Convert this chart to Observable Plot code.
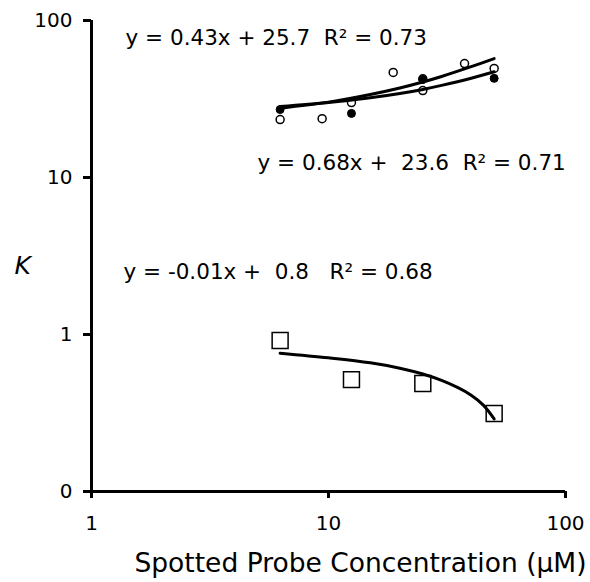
<!DOCTYPE html>
<html><head><meta charset="utf-8">
<script src="https://cdn.jsdelivr.net/npm/d3@7"></script>
<script src="https://cdn.jsdelivr.net/npm/@observablehq/plot@0.6"></script>
<style>body{margin:0;background:#fff}</style>
</head><body><div id="chart"></div>
<script>
// Open circles series
const openX = [6.25, 9.4, 12.5, 18.75, 25, 25, 37.5, 50];
const openY = [23.4, 23.7, 30.0, 46.7, 35.8, 42.5, 53.2, 49.5];
// Filled circles series
const filledX = [6.25, 12.5, 25, 50];
const filledY = [27.1, 25.6, 42.1, 42.8];
// Squares series
const squareX = [6.25, 12.5, 25, 50];
const squareY = [0.916, 0.516, 0.487, 0.314];
// Trend lines
const trendX = [6.25, 10, 15, 20, 25, 30, 40, 50];
const trendUpperY = [27.6, 30.2, 33.8, 37.2, 40.6, 44.0, 50.8, 57.2];
const trendLowerY = [28.3, 30.0, 32.2, 34.3, 36.4, 38.6, 42.9, 47.2];
const trendSqX = [6.25, 10, 15, 20, 25, 30, 35, 40, 45, 50];
const trendSqY = [0.76, 0.71, 0.66, 0.61, 0.56, 0.51, 0.46, 0.41, 0.355, 0.29];
// Tick labels
const xTicks = [1, 10, 100];
const yTicks = [0.1, 1, 10, 100];
const yTickLabels = ["0", "1", "10", "100"];
// Equation labels
const eqText = ["y = 0.43x + 25.7  R² = 0.73", "y = 0.68x +  23.6  R² = 0.71", "y = -0.01x +  0.8   R² = 0.68"];
const eqX = [1.392, 5.02, 1.365];
const eqY = [76.7, 12.3, 2.48];
const xLabel = "Spotted Probe Concentration (μM)";
const yLabel = "K";

const toRows = (xs, ys) => xs.map((x, i) => ({x, y: ys[i]}));
const font = "DejaVu Sans, Verdana, sans-serif";

const chart = Plot.plot({
  width: 590, height: 582,
  marginLeft: 91, marginRight: 25, marginTop: 20, marginBottom: 91,
  style: {fontFamily: font, background: "#fff", color: "#000"},
  x: {type: "log", domain: [1, 100]},
  y: {type: "log", domain: [0.1, 100]},
  marks: [
    Plot.axisY({ticks: yTicks, tickFormat: d => yTickLabels[yTicks.indexOf(d)], tickSize: 8, tickPadding: 11, strokeWidth: 3, fontSize: 20, label: null, fill: "#000"}),
    Plot.axisX({ticks: xTicks, tickFormat: d => String(d), tickSize: 7, tickPadding: 17, strokeWidth: 3, fontSize: 20, label: null, fill: "#000"}),
    Plot.ruleX([1], {y1: 0.1, y2: 100, stroke: "#000", strokeWidth: 3}),
    Plot.ruleY([0.1], {x1: 1, x2: 100, stroke: "#000", strokeWidth: 3}),
    Plot.dot(toRows(openX, openY), {x: "x", y: "y", r: 4, stroke: "#000", fill: "#fff", strokeWidth: 1.5}),
    Plot.dot(toRows(filledX, filledY), {x: "x", y: "y", r: 4, stroke: "#000", fill: "#000", strokeWidth: 1}),
    Plot.dot(toRows(squareX, squareY), {x: "x", y: "y", symbol: "square", r: 9, stroke: "#000", fill: "#fff", strokeWidth: 1.5}),
    Plot.line(toRows(trendX, trendUpperY), {x: "x", y: "y", stroke: "#000", strokeWidth: 3, curve: "catmull-rom"}),
    Plot.line(toRows(trendX, trendLowerY), {x: "x", y: "y", stroke: "#000", strokeWidth: 3, curve: "catmull-rom"}),
    Plot.line(toRows(trendSqX, trendSqY), {x: "x", y: "y", stroke: "#000", strokeWidth: 3, curve: "catmull-rom"}),
    Plot.text(eqText.map((t, i) => ({t, x: eqX[i], y: eqY[i]})), {x: "x", y: "y", text: "t", textAnchor: "start", fontSize: 21.5, fill: "#000"}),
    Plot.text([yLabel], {frameAnchor: "left", dx: -77, dy: 10, fontSize: 25, fontStyle: "italic", fill: "#000"}),
    Plot.text([xLabel], {frameAnchor: "bottom", dx: 32, dy: 80, fontSize: 26.5, fill: "#000"})
  ]
});
document.getElementById("chart").appendChild(chart);
</script>
</body></html>
